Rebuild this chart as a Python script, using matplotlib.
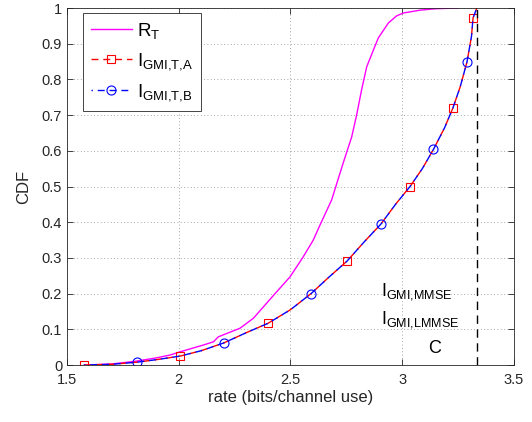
import numpy as np
import matplotlib
matplotlib.use("Agg")
import matplotlib.pyplot as plt
from matplotlib.ticker import FixedLocator, FuncFormatter

# -- data --
rate_rt = [1.576, 1.70, 1.80, 1.90, 1.961, 2.006, 2.11, 2.155, 2.177, 2.274, 2.334,
           2.393, 2.438, 2.498, 2.557, 2.602, 2.632, 2.684, 2.736, 2.774, 2.796,
           2.818, 2.841, 2.871, 2.893, 2.938, 2.975, 3.005, 3.08, 3.15, 3.25]
cdf_rt = [0.0, 0.003, 0.01, 0.02, 0.028, 0.037, 0.056, 0.065, 0.079, 0.103, 0.131,
          0.173, 0.205, 0.247, 0.303, 0.35, 0.392, 0.462, 0.566, 0.639, 0.70,
          0.77, 0.835, 0.882, 0.916, 0.958, 0.978, 0.986, 0.994, 0.998, 1.0]

rate_gmi = [1.576, 1.70, 1.813, 1.90, 2.006, 2.10, 2.202, 2.30, 2.40, 2.50, 2.592,
            2.67, 2.753, 2.83, 2.905, 2.97, 3.035, 3.09, 3.14, 3.19, 3.227, 3.26,
            3.29, 3.31, 3.317, 3.334]
cdf_gmi = [0.0, 0.002, 0.008, 0.015, 0.025, 0.04, 0.062, 0.09, 0.117, 0.155, 0.20,
           0.245, 0.291, 0.345, 0.395, 0.45, 0.50, 0.55, 0.604, 0.665, 0.72, 0.78,
           0.849, 0.92, 0.972, 1.0]
marks_a = [0, 4, 8, 12, 16, 20, 24]
marks_b = [2, 6, 10, 14, 18, 22]

capacity = 3.334
xticks = [1.5, 2, 2.5, 3, 3.5]
yticks = [0, 0.1, 0.2, 0.3, 0.4, 0.5, 0.6, 0.7, 0.8, 0.9, 1]

def main():
    plt.rcParams['font.family'] = ['Liberation Sans', 'DejaVu Sans']
    plt.rcParams['mathtext.fontset'] = 'custom'
    plt.rcParams['mathtext.rm'] = 'Liberation Sans'
    plt.rcParams['mathtext.it'] = 'Liberation Sans'

    fig = plt.figure(figsize=(5.32, 4.22), dpi=100)
    ax = fig.add_axes([0.126, 0.135, 0.840, 0.846])

    ax.plot(rate_rt, cdf_rt, color='#ff00ff', lw=1.0, label=r'$\mathrm{R}_\mathrm{T}$')
    ax.plot(rate_gmi, cdf_gmi, color='red', lw=1.0, ls=(0, (5, 3.5)),
            marker='s', markevery=marks_a, ms=6, mfc='none', mec='red', mew=0.8,
            label=r'$\mathrm{I}_\mathrm{GMI{,}T{,}A}$')
    ax.plot(rate_gmi, cdf_gmi, color='blue', lw=1.0, ls=(4, (5, 3.5)),
            marker='o', markevery=marks_b, ms=6.5, mfc='none', mec='blue', mew=0.8,
            label=r'$\mathrm{I}_\mathrm{GMI{,}T{,}B}$')
    ax.plot([capacity, capacity], [0, 1], color='black', lw=1.0, ls=(0, (6, 4)))

    ax.text(2.905, 0.196, r'$\mathrm{I}_\mathrm{GMI{,}MMSE}$', fontsize=13, va='baseline', ha='left')
    ax.text(2.905, 0.115, r'$\mathrm{I}_\mathrm{GMI{,}LMMSE}$', fontsize=13, va='baseline', ha='left')
    ax.text(3.115, 0.034, 'C', fontsize=13, va='baseline', ha='left')

    ax.set_xlim(1.5, 3.5)
    ax.set_ylim(0, 1)
    ax.xaxis.set_major_locator(FixedLocator(xticks))
    ax.yaxis.set_major_locator(FixedLocator(yticks))
    ax.xaxis.set_major_formatter(FuncFormatter(lambda v, p: f"{v:g}"))
    ax.yaxis.set_major_formatter(FuncFormatter(lambda v, p: f"{v:g}"))
    ax.tick_params(direction='in', top=True, right=True, labelsize=10.5,
                   length=4, width=0.6, colors='#262626', labelcolor='#262626')
    ax.tick_params(axis='x', pad=6)
    ax.grid(True, ls=(0, (1, 3)), color='#8c8c8c', lw=0.6)
    for s in ax.spines.values():
        s.set_linewidth(0.6)
        s.set_color('#262626')

    ax.set_xlabel('rate (bits/channel use)', fontsize=12, color='#262626', labelpad=2)
    ax.set_ylabel('CDF', fontsize=12, color='#262626', labelpad=8)

    leg = ax.legend(loc='upper left', bbox_to_anchor=(0.036, 0.985), borderaxespad=0,
                    fontsize=13.5, fancybox=False, framealpha=1, edgecolor='#262626',
                    handlelength=2.2, borderpad=0.4, labelspacing=0.55,
                    handletextpad=0.3)
    leg.get_frame().set_linewidth(0.6)

    plt.savefig("out.png", dpi=100)
    plt.close("all")

if __name__ == "__main__":
    main()
